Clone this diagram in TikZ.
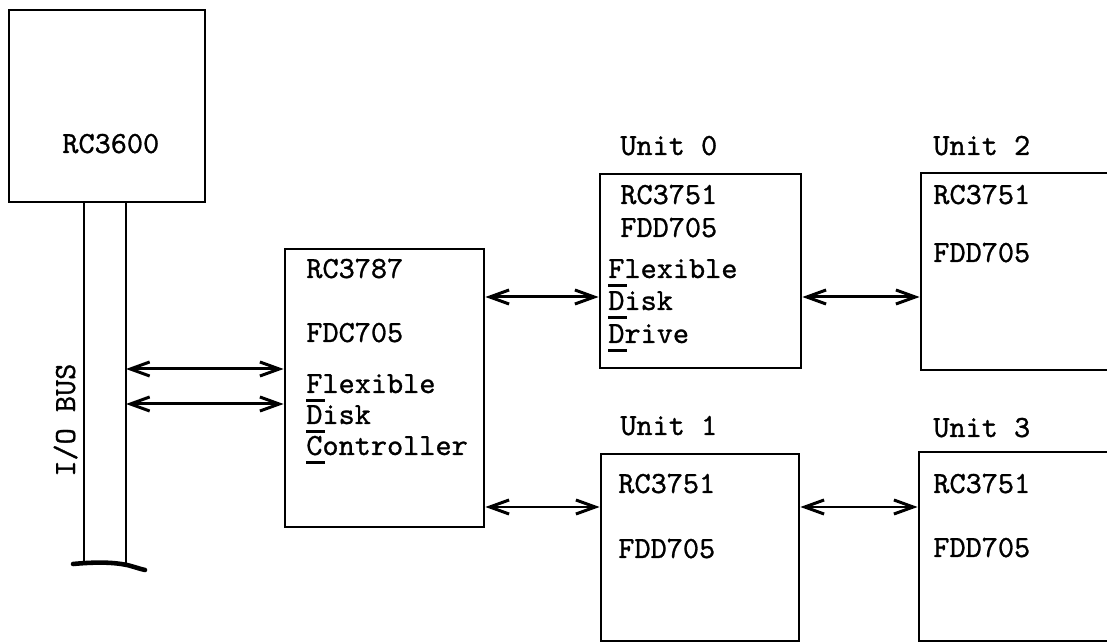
\documentclass[tikz,border=0pt]{standalone}
\usepackage{fontspec}
\usetikzlibrary{arrows.meta,fit}
\newfontfamily\typw{lmmono10-regular.otf}[FakeBold=0.9]
\newcommand\fl[1]{\rlap{\rule[-5.2pt]{10.5pt}{1.6pt}}#1}
\tikzset{
  box/.style={draw, line width=1.6pt, inner sep=0pt},
  lbl/.style={anchor=base west, inner sep=0pt, font=\typw\fontsize{17.5}{20}\selectfont},
  wire/.style={line width=1.6pt},
  biarrow/.style={line width=1.7pt, {Straight Barb[length=11pt,width=8pt]}-{Straight Barb[length=11pt,width=8pt]}},
}
\begin{document}
\begin{tikzpicture}[x=0.02cm, y=-0.02cm]
\useasboundingbox (0,0) rectangle (1107,644);
\clip (0,0) rectangle (1107,644);
% RC3600
\node[box, fit={(9,10)(205,202)}] (rc) {};
\node[lbl] (rct) at (62,153) {RC3600};
% I/O bus
\coordinate (busL) at (84,563);
\coordinate (busR) at (126,563);
\draw[wire] (busL |- rc.south) -- (busL);
\draw[wire] (busR |- rc.south) -- (busR);
\coordinate (bs1) at (73,564);
\coordinate (bs2) at (145,570);
\draw[line width=2.6pt, line cap=round] (bs1) .. controls (95,562) and (112,562) .. (127,565) .. controls (135,567) and (140,569) .. (bs2);
\node[lbl, rotate=90] (bus) at (75,477) {I/O BUS};
% controller
\node[box, fit={(285,249)(484,527)}] (fdc) {};
\node[lbl] (fdc1) at (306,278) {RC3787};
\node[lbl] (fdc2) at (306,342) {FDC705};
\node[lbl] (fdc3) at (306,393) {\fl{F}lexible};
\node[lbl] (fdc4) at (306,424) {\fl{D}isk};
\node[lbl] (fdc5) at (306,455) {\fl{C}ontroller};
\coordinate (ya) at (0,369);
\coordinate (yb) at (0,404);
\draw[biarrow] (ya -| busR) -- (ya -| fdc.west);
\draw[biarrow] (yb -| busR) -- (yb -| fdc.west);
% units
\node[box, fit={(600,174)(801,368)}] (u0) {};
\node[box, fit={(601,454)(799,641)}] (u1) {};
\node[box, fit={(921,173)(1140,370)}] (u2) {};
\node[box, fit={(919,452)(1140,641)}] (u3) {};
\node[lbl] (u0l) at (620,155) {Unit 0};
\node[lbl] (u1l) at (620,435) {Unit 1};
\node[lbl] (u2l) at (933,155) {Unit 2};
\node[lbl] (u3l) at (933,437) {Unit 3};
\node[lbl] (u0a) at (620,204) {RC3751};
\node[lbl] (u0b) at (620,237) {FDD705};
\node[lbl] (u0c) at (608,278) {\fl{F}lexible};
\node[lbl] (u0d) at (608,310) {\fl{D}isk};
\node[lbl] (u0e) at (608,343) {\fl{D}rive};
\node[lbl] (u1a) at (618,493) {RC3751};
\node[lbl] (u1b) at (618,558) {FDD705};
\node[lbl] (u2a) at (933,204) {RC3751};
\node[lbl] (u2b) at (933,262) {FDD705};
\node[lbl] (u3a) at (933,493) {RC3751};
\node[lbl] (u3b) at (933,557) {FDD705};
% drive links
\coordinate (yc) at (0,297);
\coordinate (yd) at (0,507);
\draw[biarrow] (yc -| fdc.east) -- (yc -| u0.west);
\draw[biarrow] (yc -| u0.east) -- (yc -| u2.west);
\draw[biarrow] (yd -| fdc.east) -- (yd -| u1.west);
\draw[biarrow] (yd -| u1.east) -- (yd -| u3.west);
\end{tikzpicture}
\end{document}
